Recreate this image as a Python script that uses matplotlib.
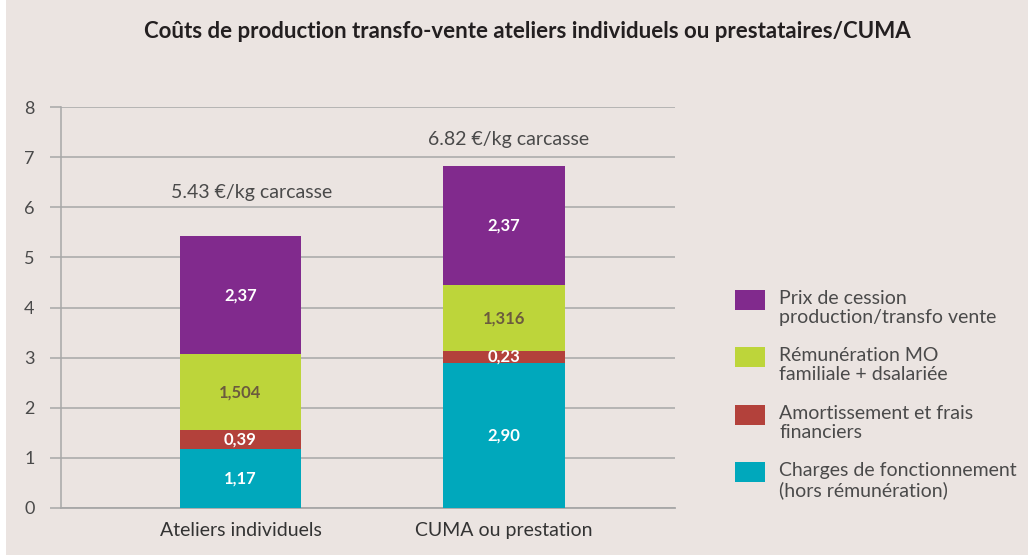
import matplotlib
matplotlib.use("Agg")
import matplotlib.pyplot as plt
from matplotlib.patches import Rectangle

plt.rcParams['font.family'] = ['Lato', 'DejaVu Sans']

# ---- data ----
categories = ["Ateliers individuels", "CUMA ou prestation"]
series_names = [
    "Charges de fonctionnement\n(hors rémunération)",
    "Amortissement et frais\nfinanciers",
    "Rémunération MO\nfamiliale + dsalariée",
    "Prix de cession\nproduction/transfo vente",
]
charges = [1.17, 2.90]
amort = [0.39, 0.23]
remun = [1.504, 1.316]
prix = [2.37, 2.37]
value_labels = [
    ["1,17", "2,90"],
    ["0,39", "0,23"],
    ["1,504", "1,316"],
    ["2,37", "2,37"],
]
totals_text = ["5.43 €/kg carcasse", "6.82 €/kg carcasse"]
yticks = [0, 1, 2, 3, 4, 5, 6, 7, 8]
title = "Coûts de production transfo-vente ateliers individuels ou prestataires/CUMA"

# ---- style / placement ----
totals_pos = [(0.044, 6.3), (0.019, 7.36)]
colors = ["#00a8bc", "#b3413b", "#bdd53a", "#812a8d"]
label_colors = ["white", "white", "#6b5b3e", "white"]
bg = "#ebe4e1"
grid_c = "#a7a7a7"
text_c = "#4a4a4a"

W, H = 1028, 555
fig = plt.figure(figsize=(W / 100, H / 100), dpi=100, facecolor=bg)
fig.add_artist(Rectangle((0, 0), 6 / W, 1, transform=fig.transFigure,
                         facecolor="white", edgecolor="none"))

left, right, bottom, top = 61, 675, 508, 107
ax = fig.add_axes([left / W, (H - bottom) / H, (right - left) / W, (bottom - top) / H])
ax.set_facecolor(bg)

x = list(range(len(categories)))
series = [charges, amort, remun, prix]
base = [0.0] * len(categories)
for vals, col, labs, lc in zip(series, colors, value_labels, label_colors):
    ax.bar(x, vals, width=0.46, bottom=base, color=col, edgecolor="none", zorder=3)
    for xi, b0, v, lab in zip(x, base, vals, labs):
        ax.text(xi, b0 + v / 2, lab, ha="center", va="center", color=lc,
                fontsize=12, fontweight="bold", zorder=4)
    base = [b + v for b, v in zip(base, vals)]

for xi, t, (dx, ty) in zip(x, totals_text, totals_pos):
    ax.text(xi + dx, ty, t, ha="center", va="center", fontsize=14, color=text_c)

ax.set_xlim(-0.681, 1.649)
ax.set_ylim(0, 8)
ax.set_yticks(yticks)
ax.set_yticklabels([str(t) for t in yticks], fontsize=13, color=text_c)
ax.yaxis.grid(True, color=grid_c, linewidth=1.1, zorder=0)
ax.tick_params(axis="y", length=8, color=grid_c, width=1.1, pad=11)
ax.set_xticks(x)
ax.set_xticklabels(categories, fontsize=14, color="#333333")
ax.tick_params(axis="x", length=0, pad=10)
for s in ["top", "right"]:
    ax.spines[s].set_visible(False)
ax.spines["left"].set_color(grid_c)
ax.spines["left"].set_linewidth(1.1)
ax.spines["bottom"].set_color(grid_c)
ax.spines["bottom"].set_linewidth(1.3)

fig.text(527 / W, 1 - 32 / H, title, ha="center", va="center",
         fontsize=16, fontweight="bold", color="#231f20")

# legend (top entry first)
leg_y = [300, 357, 415, 472]
for name, col, yy in zip(series_names[::-1], colors[::-1], leg_y):
    fig.add_artist(Rectangle((735 / W, 1 - (yy + 10) / H), 30 / W, 20 / H,
                             transform=fig.transFigure, facecolor=col, edgecolor="none"))
    fig.text(779 / W, 1 - (yy - 10) / H, name, ha="left", va="top",
             fontsize=14, color=text_c, linespacing=1.12)

fig.savefig("out.png", dpi=100, facecolor=bg)
